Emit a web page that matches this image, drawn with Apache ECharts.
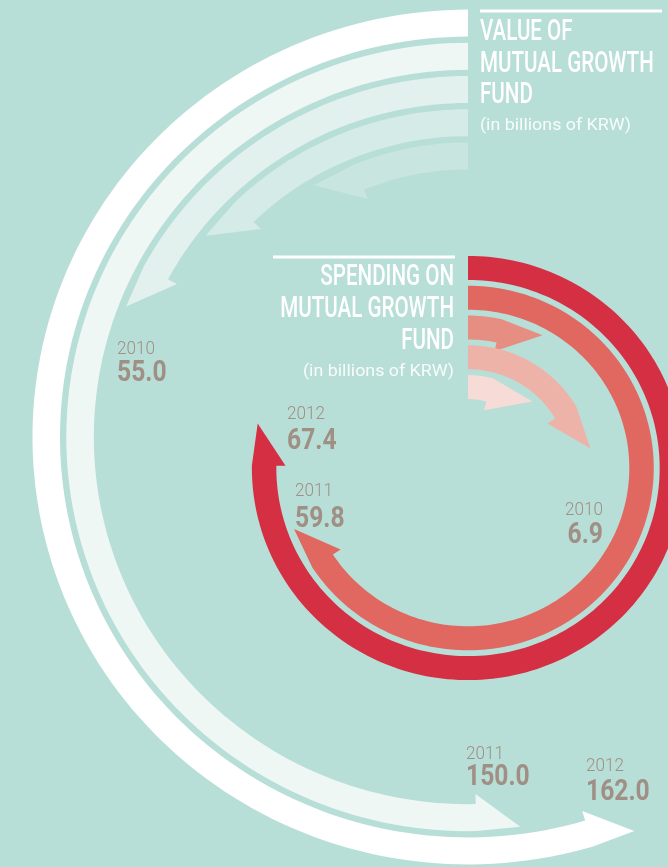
<!DOCTYPE html>
<html>
<head>
<meta charset="utf-8">
<script src="https://cdn.jsdelivr.net/npm/echarts@6/dist/echarts.min.js"></script>
<style>
  html, body { margin: 0; padding: 0; background: #b8ded8; }
  #chart { width: 668px; height: 867px; }
</style>
</head>
<body>
<div id="chart"></div>
<script>
// Years shown beside the three labelled arrows, outermost ring first
const years = ['2012', '2011', '2010'];
// Value of the mutual growth fund (billions of KRW)
const fundValues = [162.0, 150.0, 55.0];
// Spending on the mutual growth fund (billions of KRW)
const spendValues = [67.4, 59.8, 6.9];
// Two fainter, unlabelled arrows continue each spiral inward
const fundTrail = [41.6, 24.8];
const spendTrail = [19.3, 10.4];

// Ring colours, outermost first
const fundColors = ['#ffffff', '#eff7f5', '#e2f1ee', '#d5ebe7', '#c8e5e0'];
const spendColors = ['#d52f43', '#e06860', '#e68e81', '#eeb3a8', '#f6dbd6'];

const RINGS = 5;
const FUND_SPAN = 288;   // angle axis: a full turn of the fund spiral
const SPEND_SPAN = 86;   // angle axis: a full turn of the spending spiral
const STRETCH = 1.019;   // the artwork is slightly wider than tall

// ring slot on the radius axis: ring 0 is the outermost band
function toRingData(values) {
  return values.map((v, i) => [RINGS - 1 - i + 0.5, v]);
}

// One curved arrow per data item: a band from 12 o'clock to the value,
// finished with a head that is flush on the outside and barbed inside.
function arrowRenderer(colors, span, opts) {
  return function (params, api) {
    const i = params.dataIndex;
    const slot = api.value(0);
    const val = api.value(1);
    const cs = params.coordSys;
    const cx = cs.cx, cy = cs.cy;
    const band = (cs.r - cs.r0) / RINGS;
    const p0 = api.coord([slot, 0]);
    const mid = Math.hypot(p0[0] - cx, p0[1] - cy);
    const w = band * opts.fill;
    const rOut = mid + w / 2;
    const rIn = mid - w / 2;
    const headUnits = opts.head / mid * span / (2 * Math.PI);
    const bodyEnd = Math.max(val - headUnits, 0);
    const at = (v, r) => {
      const c = api.coord([slot, v]);
      const d = Math.hypot(c[0] - cx, c[1] - cy);
      return [cx + (c[0] - cx) * r / d, cy + (c[1] - cy) * r / d];
    };
    const steps = Math.max(2, Math.ceil(bodyEnd / span * 240));
    const outer = [], inner = [];
    for (let k = 0; k <= steps; k++) {
      const v = bodyEnd * k / steps;
      outer.push(at(v, rOut));
      inner.unshift(at(v, rIn));
    }
    const points = outer.concat([at(val, rOut - 1), at(bodyEnd, rIn - opts.barb)], inner);
    return {
      type: 'polygon',
      originX: cx,
      originY: cy,
      scaleX: STRETCH,
      shape: { points: points },
      style: { fill: colors[i] }
    };
  };
}

const LABEL = '#a08f84';
const FONT = 'Roboto, "DejaVu Sans", sans-serif';

function txt(x, y, text, size, weight, fill, align, sx) {
  return {
    type: 'text', x: x, y: y, scaleX: sx, silent: true, z: 10,
    style: {
      text: text, fontSize: size, fontWeight: weight, fontFamily: FONT,
      fill: fill, align: align, verticalAlign: 'middle'
    }
  };
}

// year + value pair; (x, yYear, yValue) place the pair beside its arrow tip
function valueLabel(x, yYear, yValue, year, value, align) {
  return [
    txt(x, yYear, year, 19, 300, LABEL, align, 0.9),
    txt(x, yValue, value.toFixed(1), 29, 'bold', LABEL, align, 0.85)
  ];
}

function titleBlock(x, yLine, lineX1, lineX2, lines, align) {
  const els = [{
    type: 'line', silent: true, z: 10,
    shape: { x1: lineX1, y1: yLine, x2: lineX2, y2: yLine },
    style: { stroke: '#ffffff', lineWidth: 3 }
  }];
  lines.title.forEach((t, k) => {
    els.push(txt(x, lines.y[k], t, 29, 500, '#ffffff', align, 0.71));
  });
  els.push(txt(x, lines.subY, '(in billions of KRW)', 17, 'normal', 'rgba(255,255,255,0.9)', align, 1.05));
  return els;
}

const chart = echarts.init(document.getElementById('chart'), null, { renderer: 'canvas' });

const graphic = []
  .concat(titleBlock(480, 11, 480, 662,
    { title: ['VALUE OF', 'MUTUAL GROWTH', 'FUND'], y: [33, 65, 96], subY: 126 }, 'left'))
  .concat(titleBlock(454, 257, 273, 455,
    { title: ['SPENDING ON', 'MUTUAL GROWTH', 'FUND'], y: [278, 310, 342], subY: 372 }, 'right'))
  .concat(valueLabel(117, 349, 374, years[2], fundValues[2], 'left'))
  .concat(valueLabel(466, 754, 778, years[1], fundValues[1], 'left'))
  .concat(valueLabel(586, 766, 793, years[0], fundValues[0], 'left'))
  .concat(valueLabel(287, 414, 442, years[0], spendValues[0], 'left'))
  .concat(valueLabel(295, 491, 520, years[1], spendValues[1], 'left'))
  .concat(valueLabel(603, 510, 536, years[2], spendValues[2], 'right'));

chart.setOption({
  backgroundColor: '#b8ded8',
  animation: false,
  polar: [
    { center: [468, 437], radius: [264.5, 430.5] },
    { center: [468, 468], radius: [66, 215] }
  ],
  angleAxis: [
    { polarIndex: 0, type: 'value', min: 0, max: FUND_SPAN, startAngle: 90, clockwise: false, show: false },
    { polarIndex: 1, type: 'value', min: 0, max: SPEND_SPAN, startAngle: 90, clockwise: true, show: false }
  ],
  radiusAxis: [
    { polarIndex: 0, type: 'value', min: 0, max: RINGS, show: false },
    { polarIndex: 1, type: 'value', min: 0, max: RINGS, show: false }
  ],
  series: [
    {
      name: 'Value of mutual growth fund',
      type: 'custom', coordinateSystem: 'polar', polarIndex: 0, silent: true, z: 1,
      encode: { radius: 0, angle: 1 },
      data: toRingData(fundValues.concat(fundTrail)),
      renderItem: arrowRenderer(fundColors, FUND_SPAN, { fill: 27 / 33.2, head: 42, barb: 10 })
    },
    {
      name: 'Spending on mutual growth fund',
      type: 'custom', coordinateSystem: 'polar', polarIndex: 1, silent: true, z: 2,
      encode: { radius: 0, angle: 1 },
      data: toRingData(spendValues.concat(spendTrail)),
      renderItem: arrowRenderer(spendColors, SPEND_SPAN, { fill: 24 / 29.8, head: 40, barb: 9 })
    }
  ],
  graphic: graphic
});
</script>
</body>
</html>
